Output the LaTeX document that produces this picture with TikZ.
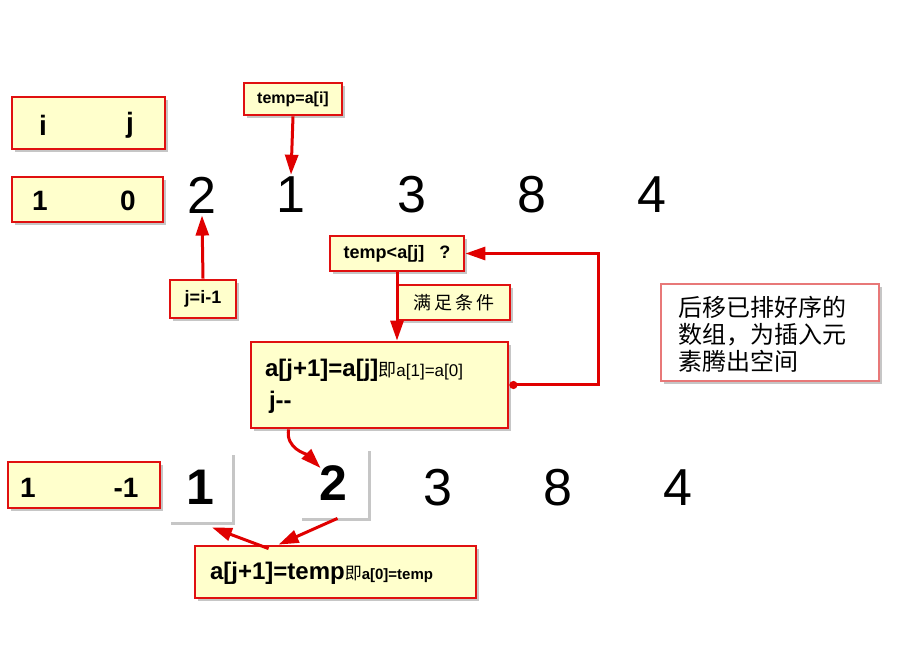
\documentclass[tikz,border=0pt]{standalone}
\usepackage{fontspec}
\setmainfont{Liberation Sans}
\newfontfamily\cjk{Noto Sans CJK SC}
\usetikzlibrary{fit,shadows,arrows.meta}
\definecolor{notefill}{HTML}{FFFFCC}
\definecolor{noteedge}{HTML}{E01010}
\definecolor{pinkedge}{HTML}{E87878}
\definecolor{arrowred}{HTML}{E00000}

\begin{document}
\begin{tikzpicture}[x=0.5pt,y=-0.5pt,
  box/.style={draw=noteedge,line width=1.4pt,fill=notefill,inner sep=0pt,
    drop shadow={shadow xshift=1.6pt,shadow yshift=-1.6pt,opacity=0.45}},
  card/.style={fill=white,inner sep=0pt,
    drop shadow={shadow xshift=1.4pt,shadow yshift=-1.4pt,opacity=0.45}},
  arr/.style={arrowred,line width=1.5pt,-{Triangle[length=10pt,width=6.5pt]}},
  digit/.style={font=\fontsize{26}{28}\selectfont,inner sep=1pt},
  every node/.style={font=\bfseries}]
  \useasboundingbox (0,0) rectangle (900,652);

  % variables i and j
  \node[box,fit={(12,97) (165,149)}] (ij) {};
  \node[font=\fontsize{14}{16}\selectfont\bfseries] (iname) at (43,125) {i};
  \node[font=\fontsize{14}{16}\selectfont\bfseries] (jname) at (130,125) {j};
  \node[box,fit={(12,177) (163,222)}] (ijval) {};
  \node[font=\fontsize{14}{16}\selectfont\bfseries] (ival) at (40,201) {1};
  \node[font=\fontsize{14}{16}\selectfont\bfseries] (jval) at (128,201) {0};

  % first row of the array
  \node[digit] (d0) at (202,195) {2};
  \node[digit] (d1) at (291,195) {1};
  \node[digit] (d2) at (412,195) {3};
  \node[digit] (d3) at (532,195) {8};
  \node[digit] (d4) at (652,195) {4};

  \node[box,fit={(244,83) (342,115)}] (tmp) {};
  \node[font=\fontsize{8}{9}\selectfont\bfseries] (tmptext) at (tmp.center) {temp=a[i]};
  \draw[arr] (tmp.south) -- (d1.north);
  \node[box,fit={(170,280) (236,318)}] (jinit) {};
  \node[font=\fontsize{9}{10}\selectfont\bfseries] (jinittext) at (jinit.center) {j=i-1};
  \draw[arr] (jinit.north) -- (d0.south);

  % comparison and shift
  \node[box,fit={(330,236) (464,271)}] (cmp) {};
  \node[font=\fontsize{9}{10}\selectfont\bfseries] (cmptext) at (cmp.center) {temp<a[j]\ \ \ ?};
  \node[box,fit={(398,285) (510,320)}] (cond) {};
  \node[font=\fontsize{9}{10}\selectfont\cjk] (condtext) at (cond.center) {满\,足\,条\,件};
  \node[box,fit={(251,342) (508,428)}] (shift) {};
  \node[anchor=west,font=\fontsize{12}{14}\selectfont\bfseries] (shiftA) at (258,370)
    {a[j+1]=a[j]{\mdseries\fontsize{9}{10}\selectfont\cjk 即}{\mdseries\fontsize{8.5}{10}\selectfont a[1]=a[0]}};
  \node[anchor=west,font=\fontsize{12}{14}\selectfont\bfseries] (shiftB) at (262,402) {j-{}-};
  \draw[arr] (cmp.south) -- (cmp.south |- shift.north);
  \coordinate (loopc) at (598,300);
  \draw[arrowred,line width=1.5pt,{Circle[length=4pt]}-{Triangle[length=10pt,width=6.5pt]}]
    (shift.east) -| (loopc) |- (cmp.east);

  \node[draw=pinkedge,line width=1pt,fill=white,inner sep=0pt,
    drop shadow={shadow xshift=1.6pt,shadow yshift=-1.6pt,opacity=0.45},
    fit={(661,284) (879,381)}] (note) {};
  \node[anchor=north west,align=left,font=\fontsize{12}{13.5}\selectfont\cjk] (notetext) at (671,289)
    {后移已排好序的\\数组，为插入元\\素腾出空间};

  % second row of the array
  \node[box,fit={(8,462) (160,508)}] (ijnew) {};
  \node[font=\fontsize{14}{16}\selectfont\bfseries] (inew) at (28,488) {1};
  \node[font=\fontsize{14}{16}\selectfont\bfseries] (jnew) at (126,488) {-1};
  \node[card,fit={(168,452) (232,522)}] (b1) {};
  \node[font=\fontsize{25}{26}\selectfont\bfseries] (b1text) at (b1.center) {1};
  \node[card,fit={(299,448) (368,518)}] (b2) {};
  \node[font=\fontsize{25}{26}\selectfont\bfseries] (b2text) at (b2.center) {2};
  \node[digit] (e2) at (438,488) {3};
  \node[digit] (e3) at (558,488) {8};
  \node[digit] (e4) at (678,488) {4};
  \draw[arr] ([xshift=19.5pt]shift.south west) to[out=-100,in=135] ([xshift=-6.5pt,yshift=7.5pt]b2.center);

  \node[box,fit={(195,546) (476,598)}] (ins) {};
  \node[anchor=west,font=\fontsize{12}{14}\selectfont\bfseries] (instext) at (203,573)
    {a[j+1]=temp{\mdseries\fontsize{8.5}{10}\selectfont\cjk 即}{\fontsize{7.5}{9}\selectfont a[0]=temp}};
  \draw[arr] ([xshift=37.5pt,yshift=-2pt]ins.north west) -- ([xshift=6pt,yshift=-2.5pt]b1.south);
  \draw[arr] ([xshift=2pt]b2.south) -- ([xshift=42.5pt]ins.north west);
\end{tikzpicture}
\end{document}
